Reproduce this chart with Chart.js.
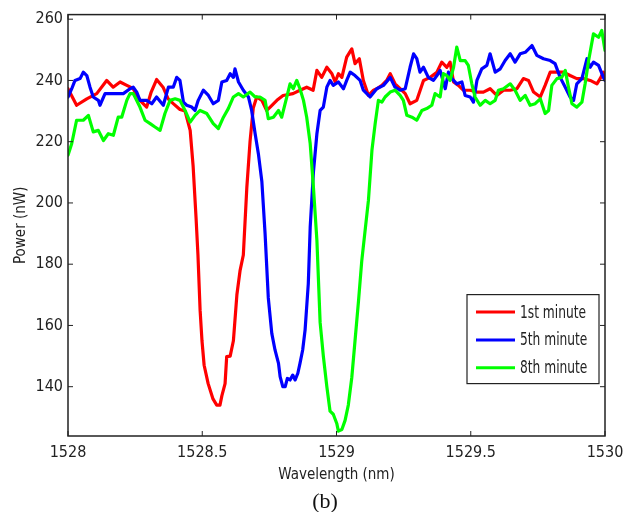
<!DOCTYPE html>
<html><head><meta charset="utf-8">
<script src="https://cdn.jsdelivr.net/npm/chart.js@4.4.0/dist/chart.umd.min.js"></script>
<style>html,body{margin:0;padding:0;background:#fff;}#wrap{width:631px;height:512px;}</style>
</head><body><div id="wrap"><canvas id="c" width="631" height="512"></canvas></div>
<script>
const seriesLabels = ['1st minute', '5th minute', '8th minute'];
const seriesColors = ['#ff0000', '#0000ff', '#00ff00'];

const redWavelength = [1528.000,1528.032,1528.070,1528.107,1528.144,1528.168,1528.194,1528.219,1528.242,1528.268,
1528.293,1528.309,1528.330,1528.354,1528.373,1528.391,1528.417,1528.436,1528.455,1528.466,
1528.477,1528.484,1528.492,1528.499,1528.507,1528.522,1528.540,1528.554,1528.566,1528.573,
1528.585,1528.591,1528.604,1528.616,1528.629,1528.641,1528.653,1528.666,1528.678,1528.690,
1528.703,1528.722,1528.740,1528.753,1528.778,1528.801,1528.838,1528.864,1528.889,1528.913,
1528.927,1528.945,1528.964,1528.983,1528.995,1529.007,1529.020,1529.038,1529.057,1529.069,
1529.085,1529.100,1529.119,1529.138,1529.150,1529.169,1529.187,1529.200,1529.218,1529.237,
1529.256,1529.274,1529.299,1529.324,1529.349,1529.374,1529.392,1529.411,1529.423,1529.436,
1529.454,1529.473,1529.498,1529.523,1529.547,1529.572,1529.597,1529.622,1529.647,1529.672,
1529.696,1529.715,1529.734,1529.759,1529.777,1529.796,1529.821,1529.845,1529.870,1529.895,
1529.920,1529.945,1529.970,1529.982,1529.994,1530.000];
const redPower = [237.3,231.9,234.0,235.7,240.0,237.8,239.5,238.4,237.4,233.5,
231.3,236,240.3,237.8,234,232.5,230.5,230,223.7,212,
195,183,165,155,147,141,136,134,134,137,
141,149.8,150,155,170,178,183,205,220,231,
234.6,233.5,230.2,231.3,233.5,235.1,235.7,236.8,237.8,236.8,
243.3,241,244.3,242.2,239.5,242.2,241,247.6,250.3,245.5,
247.1,240,235.1,236.8,237.3,238.4,240,242.2,238.9,237.3,
235.7,232.4,233.5,240,241,242.7,246,244.3,246,239.5,
238.4,236.8,236.8,236.2,236.2,237.3,235.1,236.8,236.8,237.3,
240.6,240,236.2,234.6,238.4,242.7,242.7,242.7,241.6,240.6,
240.6,240,238.9,240.6,242.7,241];

const blueWavelength = [1528.000,1528.014,1528.026,1528.045,1528.057,1528.070,1528.082,1528.094,1528.113,1528.119,
1528.138,1528.156,1528.181,1528.206,1528.231,1528.243,1528.256,1528.268,1528.293,1528.312,
1528.330,1528.355,1528.374,1528.392,1528.405,1528.417,1528.430,1528.442,1528.461,1528.473,
1528.485,1528.504,1528.523,1528.541,1528.560,1528.573,1528.591,1528.604,1528.616,1528.622,
1528.635,1528.653,1528.672,1528.684,1528.697,1528.709,1528.722,1528.734,1528.746,1528.759,
1528.771,1528.784,1528.790,1528.800,1528.809,1528.817,1528.827,1528.837,1528.846,1528.856,
1528.864,1528.874,1528.883,1528.895,1528.902,1528.914,1528.927,1528.939,1528.951,1528.964,
1528.976,1528.988,1529.007,1529.026,1529.038,1529.051,1529.069,1529.088,1529.100,1529.125,
1529.150,1529.175,1529.200,1529.218,1529.237,1529.256,1529.274,1529.287,1529.299,1529.311,
1529.324,1529.342,1529.361,1529.374,1529.386,1529.405,1529.417,1529.430,1529.448,1529.467,
1529.479,1529.498,1529.510,1529.523,1529.541,1529.560,1529.572,1529.591,1529.610,1529.628,
1529.647,1529.665,1529.684,1529.703,1529.728,1529.746,1529.771,1529.796,1529.814,1529.833,
1529.852,1529.870,1529.883,1529.895,1529.914,1529.933,1529.945,1529.957,1529.976,1529.994,
1530.000];
const bluePower = [234.6,237.3,240,240.6,242.7,241.6,237.8,234.6,233.5,231.9,
235.7,235.7,235.7,235.7,237.3,237.8,236.2,233.5,233.5,232.4,
234.6,231.9,237.8,237.8,241,240,232.9,231.9,231.3,230.2,
233.5,236.8,235.1,232.4,233.5,239.5,240,242.2,241,243.8,
239.5,236.8,234.6,230.2,222.6,216.1,207,190,169,157.4,
152,147.6,143.3,140,140,142.7,142.2,143.8,142.2,144.4,
147.6,152,158.5,173.7,192,210,222.6,230.2,231.3,237.8,
240,238.4,239.5,237.3,240,242.7,241.6,240,236.8,234.6,
237.3,238.4,241,237.8,236.8,237.3,244.3,248.7,247.1,242.7,
244.3,241,240,241.6,243.3,237.3,242.7,240.6,238.9,239.5,
235.1,234.6,232.9,240,243.8,244.9,248.7,242.7,243.8,246.5,
248.7,246,248.7,249.2,251.4,248.2,247.1,246.5,245.5,241,
237.8,234.6,233.5,238.9,240.6,247.1,244.3,246,244.9,241,
240];

const greenWavelength = [1528.000,1528.014,1528.032,1528.057,1528.076,1528.094,1528.113,1528.132,1528.150,1528.169,
1528.187,1528.200,1528.219,1528.231,1528.243,1528.268,1528.287,1528.306,1528.324,1528.343,
1528.361,1528.380,1528.399,1528.417,1528.436,1528.455,1528.473,1528.492,1528.517,1528.541,
1528.560,1528.579,1528.597,1528.616,1528.635,1528.653,1528.678,1528.697,1528.715,1528.734,
1528.746,1528.765,1528.784,1528.796,1528.815,1528.827,1528.839,1528.852,1528.864,1528.877,
1528.889,1528.902,1528.914,1528.927,1528.939,1528.951,1528.964,1528.976,1528.988,1529.001,
1529.007,1529.020,1529.032,1529.044,1529.057,1529.069,1529.082,1529.094,1529.119,1529.132,
1529.144,1529.156,1529.169,1529.181,1529.200,1529.218,1529.237,1529.249,1529.262,1529.281,
1529.299,1529.318,1529.336,1529.355,1529.367,1529.386,1529.398,1529.411,1529.423,1529.436,
1529.448,1529.461,1529.479,1529.491,1529.504,1529.516,1529.535,1529.554,1529.572,1529.591,
1529.603,1529.622,1529.647,1529.665,1529.684,1529.703,1529.721,1529.740,1529.759,1529.777,
1529.790,1529.802,1529.821,1529.839,1529.852,1529.864,1529.877,1529.895,1529.914,1529.926,
1529.939,1529.957,1529.976,1529.988,1530.000];
const greenPower = [215.6,219.4,227,227,228.6,223.2,223.7,220.4,222.6,222.1,
228,228,233.5,235.7,235.7,231.3,227,225.9,224.8,223.7,
229.2,233.5,234,233.5,230.2,226.4,228.6,230.2,229.2,225.9,
224.3,228,230.8,234.6,235.7,234.6,236.2,234.6,234.6,233.5,
227.5,228,230.2,228,234.6,238.9,237.3,240,237.3,233.5,
228,219.4,205.2,187.8,161,150,140,132,131,128,
125.5,126,129,134,143,155,168,181,200.9,217.2,
225.9,233.5,232.9,234.6,236.2,236.8,235.1,233.5,228.6,228,
227,230.2,230.8,231.9,235.7,234.6,242.2,241.6,240,244.3,
250.9,246.5,246.5,244.9,238.9,234.6,231.9,233.5,232.4,233.5,
236.8,237.3,238.9,236.8,233.5,235.1,231.9,232.4,234,229.2,
230.2,238.4,240.6,241,243.3,237.8,232.4,231.3,232.9,238.9,
246.5,255.2,254.1,256.3,249.8];

const xTicks = [1528, 1528.5, 1529, 1529.5, 1530];
const xTickLabels = ['1528', '1528.5', '1529', '1529.5', '1530'];
const yTicks = [140, 160, 180, 200, 220, 240, 260];
const yTickLabels = ['140', '160', '180', '200', '220', '240', '260'];
const xTitle = 'Wavelength (nm)';
const yTitle = 'Power (nW)';
const caption = '(b)';

const FONT = '"DejaVu Sans Condensed", "Liberation Sans Narrow", sans-serif';

function pts(xs, ys) { return xs.map((x, i) => ({ x: x, y: ys[i] })); }

const framePlugin = {
  id: 'frame',
  afterDatasetsDraw(chart) {
    const ctx = chart.ctx, a = chart.chartArea;
    const xs = chart.scales.x, ys = chart.scales.y;
    ctx.save();
    ctx.strokeStyle = '#222';
    ctx.lineWidth = 1.5;
    ctx.strokeRect(a.left, a.top, a.right - a.left, a.bottom - a.top);
    ctx.lineWidth = 1;
    const L = 5;
    ctx.beginPath();
    xTicks.forEach(v => {
      const p = xs.getPixelForValue(v);
      ctx.moveTo(p, a.bottom); ctx.lineTo(p, a.bottom - L);
      ctx.moveTo(p, a.top); ctx.lineTo(p, a.top + L);
    });
    yTicks.forEach(v => {
      const p = ys.getPixelForValue(v);
      ctx.moveTo(a.left, p); ctx.lineTo(a.left + L, p);
      ctx.moveTo(a.right, p); ctx.lineTo(a.right - L, p);
    });
    ctx.stroke();
    ctx.restore();
  },
  afterDraw(chart) {
    const ctx = chart.ctx, a = chart.chartArea;
    ctx.save();
    const bw = 132, bh = 89;
    const bx = a.right - 6 - bw, by = a.top + 280;
    ctx.fillStyle = '#fff';
    ctx.fillRect(bx, by, bw, bh);
    ctx.strokeStyle = '#222';
    ctx.lineWidth = 1.2;
    ctx.strokeRect(bx, by, bw, bh);
    seriesLabels.forEach((lab, i) => {
      const cy = by + 17.5 + i * 27.8;
      ctx.strokeStyle = seriesColors[i];
      ctx.lineWidth = 3;
      ctx.beginPath();
      ctx.moveTo(bx + 9, cy); ctx.lineTo(bx + 48, cy);
      ctx.stroke();
      ctx.save();
      ctx.translate(bx + 53, cy + 1);
      ctx.scale(0.8, 1);
      ctx.font = '17px ' + FONT;
      ctx.textBaseline = 'middle';
      ctx.textAlign = 'left';
      ctx.fillStyle = '#222';
      ctx.fillText(lab, 0, 0);
      ctx.restore();
    });
    ctx.font = '22px "Liberation Serif", "DejaVu Serif", serif';
    ctx.fillStyle = '#111';
    ctx.textAlign = 'center';
    ctx.textBaseline = 'middle';
    ctx.fillText(caption, 325, 502);
    ctx.restore();
  }
};

new Chart(document.getElementById('c'), {
  type: 'line',
  data: {
    datasets: [
      { label: seriesLabels[0], data: pts(redWavelength, redPower), borderColor: seriesColors[0], order: 3 },
      { label: seriesLabels[1], data: pts(blueWavelength, bluePower), borderColor: seriesColors[1], order: 2 },
      { label: seriesLabels[2], data: pts(greenWavelength, greenPower), borderColor: seriesColors[2], order: 1 }
    ]
  },
  options: {
    responsive: false,
    animation: false,
    layout: { padding: { top: 14, right: 26, bottom: 0, left: 0 } },
    elements: {
      line: { borderWidth: 3.2, tension: 0, fill: false, borderJoinStyle: 'round', borderCapStyle: 'round' },
      point: { radius: 0, hoverRadius: 0 }
    },
    plugins: { legend: { display: false }, tooltip: { enabled: false }, title: { display: false } },
    scales: {
      x: {
        type: 'linear', min: 1528, max: 1530,
        afterBuildTicks: s => { s.ticks = xTicks.map(v => ({ value: v })); },
        afterFit: s => { s.height = 76; },
        grid: { display: false, drawTicks: false },
        border: { display: false },
        ticks: { autoSkip: false, maxRotation: 0, padding: 7, color: '#222',
                 font: { family: FONT, size: 16 },
                 callback: (v, i) => xTickLabels[i] },
        title: { display: true, text: xTitle, color: '#222', font: { family: FONT, size: 15 },
                 padding: { top: 0, bottom: 28 } }
      },
      y: {
        type: 'linear', min: 123.9, max: 261.5,
        afterBuildTicks: s => { s.ticks = yTicks.map(v => ({ value: v })); },
        afterFit: s => { s.width = 68; },
        grid: { display: false, drawTicks: false },
        border: { display: false },
        ticks: { autoSkip: false, padding: 5, color: '#222',
                 font: { family: FONT, size: 16 },
                 callback: (v, i) => yTickLabels[i] },
        title: { display: true, text: yTitle, color: '#222', font: { family: FONT, size: 15 },
                 padding: { top: 12, bottom: 0 } }
      }
    }
  },
  plugins: [framePlugin]
});
</script>
</body></html>
